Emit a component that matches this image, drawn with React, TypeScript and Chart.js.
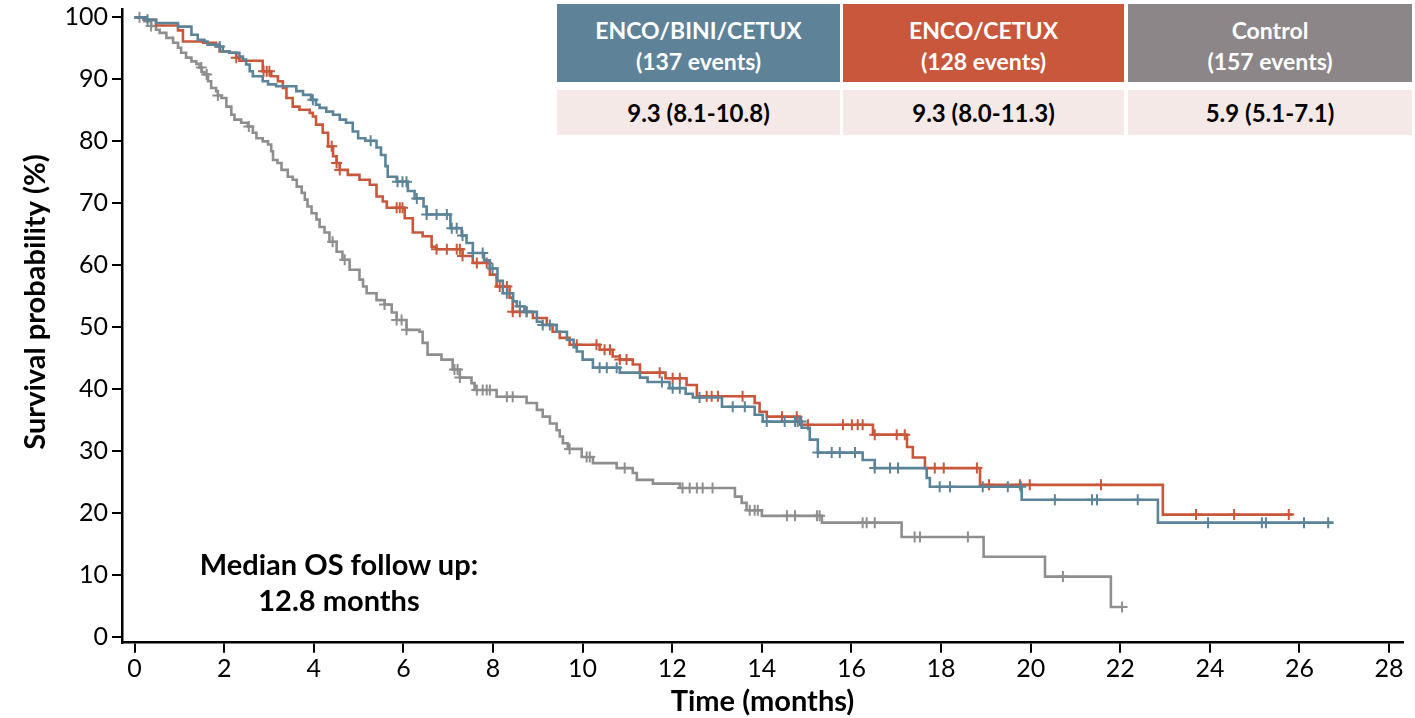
import React, { useEffect, useRef } from "react";
import { Chart, registerables } from "chart.js";

Chart.register(...registerables);

// ---- Axis ticks ----
const xTicks = [0, 2, 4, 6, 8, 10, 12, 14, 16, 18, 20, 22, 24, 26, 28];
const yTicks = [0, 10, 20, 30, 40, 50, 60, 70, 80, 90, 100];

// ---- Groups ----
const groupNames = ["ENCO/BINI/CETUX", "ENCO/CETUX", "Control"];
const groupEvents = ["(137 events)", "(128 events)", "(157 events)"];
const groupMedians = ["9.3 (8.1-10.8)", "9.3 (8.0-11.3)", "5.9 (5.1-7.1)"];
const groupHeaderColors = ["#5e8398", "#c8573b", "#8c8689"];
const groupLineColors = ["#5b8499", "#c8573b", "#8e8e8e"];

// ---- KM event steps: [time (months), survival (%) after event] ----
const blueSteps = [
  [0.27, 99.6], [0.48, 99.1], [0.97, 98.5], [1.27, 97.2], [1.41, 96.4], [1.56, 96.1], [1.63, 95.6],
  [1.9, 95.3], [1.97, 94.5], [2.12, 94.3], [2.34, 93.7], [2.42, 93.2], [2.49, 92.4], [2.57, 91.3],
  [2.64, 90.5], [2.86, 89.7], [2.98, 89.2], [3.16, 88.9], [3.61, 88.1], [3.76, 87.5], [3.94, 86.7],
  [4.05, 85.9], [4.13, 85.4], [4.28, 84.8], [4.43, 84.3], [4.58, 83.5], [4.72, 83.0], [4.87, 81.6],
  [4.99, 80.5], [5.15, 80.1], [5.4, 79.0], [5.5, 77.8], [5.6, 76.0], [5.65, 74.3], [5.85, 73.5],
  [6.1, 72.0], [6.25, 70.8], [6.45, 69.5], [6.52, 68.2], [7.05, 66.0], [7.3, 64.8], [7.41, 63.6],
  [7.55, 62.0], [7.8, 60.8], [7.93, 59.5], [8.1, 57.5], [8.22, 55.5], [8.45, 54.2], [8.53, 53.4],
  [8.7, 52.5], [8.98, 50.9], [9.1, 50.4], [9.42, 49.3], [9.65, 48.0], [9.8, 46.8], [9.87, 46.1],
  [10.0, 44.8], [10.23, 43.5], [10.83, 42.7], [11.28, 41.9], [11.45, 41.2], [11.94, 40.2],
  [12.3, 39.3], [12.46, 38.7], [13.11, 37.2], [13.84, 35.9], [14.02, 34.8], [14.89, 33.8],
  [15.07, 31.9], [15.25, 29.8], [16.25, 28.6], [16.52, 27.3], [17.68, 25.7], [17.75, 24.3],
  [19.8, 22.2], [22.84, 18.5],
];
const blueCensored = [
  0.29, 1.9, 3.98, 5.27, 5.87, 5.98, 6.07, 6.3, 6.52, 6.74, 6.97, 7.08, 7.19, 7.32, 7.55, 7.77,
  7.99, 8.31, 8.6, 8.75, 9.11, 9.27, 10.38, 10.54, 10.76, 11.77, 12.01, 12.17, 12.61, 13.35,
  13.62, 14.11, 14.51, 14.74, 14.8, 14.88, 15.25, 15.56, 15.74, 16.08, 16.52, 16.86, 17.04,
  17.97, 18.2, 18.93, 19.49, 19.78, 20.54, 21.37, 21.48, 22.39, 23.96, 25.16, 25.25, 26.1, 26.64,
];
const blueEnd = 26.75;

const orangeSteps = [
  [0.22, 99.6], [0.48, 98.7], [0.97, 97.9], [1.08, 96.1], [1.53, 95.9], [1.82, 95.3], [1.9, 94.5],
  [2.12, 94.3], [2.27, 93.5], [2.34, 93.0], [2.86, 91.3], [3.05, 90.5], [3.2, 89.7], [3.31, 88.6],
  [3.39, 87.0], [3.53, 85.6], [3.68, 85.1], [3.91, 84.6], [3.98, 84.0], [4.05, 82.7], [4.2, 81.4],
  [4.32, 79.2], [4.43, 77.6], [4.51, 76.5], [4.58, 75.4], [4.76, 74.6], [5.02, 73.8], [5.25, 73.0],
  [5.4, 71.1], [5.54, 70.3], [5.63, 69.3], [6.03, 67.6], [6.21, 65.3], [6.43, 64.7], [6.63, 63.0],
  [6.74, 62.6], [7.32, 61.5], [7.55, 60.4], [7.93, 58.5], [8.08, 56.6], [8.37, 54.8], [8.44, 52.5],
  [8.89, 51.5], [9.2, 50.4], [9.33, 49.3], [9.49, 48.3], [9.71, 47.2], [10.38, 46.4], [10.67, 45.3],
  [10.83, 44.8], [11.12, 44.0], [11.28, 42.7], [11.85, 41.8], [12.32, 40.7], [12.55, 38.9],
  [13.84, 37.8], [13.95, 36.4], [14.11, 35.6], [14.85, 34.3], [16.48, 32.7], [17.24, 30.7],
  [17.37, 29.0], [17.64, 27.3], [18.87, 24.6], [22.95, 19.8],
];
const orangeCensored = [
  2.27, 2.88, 2.95, 3.01, 4.4, 4.51, 4.58, 5.85, 5.92, 5.98, 6.74, 6.97, 7.19, 7.26, 7.32, 7.64,
  7.86, 8.15, 8.31, 8.44, 8.6, 8.75, 9.87, 10.31, 10.49, 10.61, 10.83, 10.98, 11.72, 12.01, 12.17,
  12.77, 12.88, 13.02, 13.57, 14.45, 14.78, 15.03, 15.81, 16.01, 16.14, 16.25, 16.52, 17.01, 17.19,
  17.86, 18.06, 18.8, 19.07, 19.76, 19.98, 21.57, 23.69, 24.54, 25.76,
];
const orangeEnd = 25.85;

const graySteps = [
  [0.22, 99.4], [0.37, 98.6], [0.48, 98.0], [0.56, 97.5], [0.71, 96.7], [0.86, 95.9], [0.97, 95.1],
  [1.04, 94.3], [1.15, 93.5], [1.27, 92.9], [1.38, 92.5], [1.45, 91.9], [1.5, 91.2], [1.56, 90.8],
  [1.64, 89.7], [1.71, 88.6], [1.82, 88.1], [1.86, 87.4], [1.94, 87.0], [2.05, 85.6], [2.16, 84.3],
  [2.23, 83.5], [2.38, 83.0], [2.53, 82.4], [2.64, 81.4], [2.72, 80.5], [2.86, 80.0], [2.98, 79.5],
  [3.05, 78.4], [3.09, 77.0], [3.19, 76.5], [3.28, 75.4], [3.42, 74.3], [3.53, 73.8], [3.62, 72.7],
  [3.73, 71.7], [3.8, 70.6], [3.86, 69.5], [3.95, 68.4], [4.06, 67.4], [4.13, 66.2], [4.24, 65.3],
  [4.35, 63.8], [4.51, 62.2], [4.64, 60.9], [4.8, 59.3], [5.02, 57.7], [5.1, 56.6], [5.18, 55.5],
  [5.4, 54.4], [5.58, 53.7], [5.74, 52.4], [5.85, 51.2], [6.07, 49.6], [6.36, 49.3], [6.43, 47.5],
  [6.54, 45.6], [6.85, 44.8], [7.1, 43.2], [7.26, 41.9], [7.52, 41.0], [7.59, 39.9], [8.08, 38.8],
  [8.75, 37.8], [8.98, 36.7], [9.11, 35.6], [9.27, 34.5], [9.42, 33.4], [9.49, 32.4], [9.56, 31.3],
  [9.67, 30.4], [9.98, 29.1], [10.23, 28.1], [10.76, 27.3], [11.12, 26.5], [11.21, 25.4],
  [11.57, 24.8], [12.17, 24.1], [13.4, 22.7], [13.55, 21.7], [13.66, 20.5], [14.0, 19.6],
  [15.34, 18.5], [17.12, 16.2], [18.95, 13.0], [20.32, 9.8], [21.79, 4.9],
];
const grayCensored = [
  0.11, 0.37, 1.49, 1.61, 1.86, 2.55, 4.42, 4.69, 5.58, 5.85, 5.96, 6.07, 7.14, 7.21, 7.26, 7.64,
  7.77, 7.86, 7.93, 8.31, 8.44, 9.71, 10.09, 10.16, 10.94, 12.23, 12.39, 12.55, 12.68, 12.9, 13.73,
  13.84, 13.91, 14.56, 14.74, 15.23, 15.29, 16.25, 16.34, 16.52, 17.41, 17.53, 18.6, 20.72, 22.04,
];
const grayEnd = 22.04;

// ---- helpers ----
function stepLine(steps: number[][], end: number) {
  const pts = [{ x: 0, y: 100 }];
  steps.forEach(([t, s]) => pts.push({ x: t, y: s }));
  pts.push({ x: end, y: steps[steps.length - 1][1] });
  return pts;
}
function survivalAt(steps: number[][], t: number) {
  let s = 100;
  for (const [tt, ss] of steps) if (tt <= t) s = ss;
  return s;
}
function censorPoints(steps: number[][], times: number[]) {
  return times.map((t) => ({ x: t, y: survivalAt(steps, t) }));
}

const FONT = "Lato, 'Open Sans', sans-serif";

const axisTitlePlugin = {
  id: "axisTitles",
  afterDraw(chart: any) {
    const { ctx, chartArea } = chart;
    ctx.save();
    ctx.fillStyle = "#000";
    ctx.font = `bold 29px ${FONT}`;
    ctx.textAlign = "center";
    ctx.textBaseline = "middle";
    ctx.fillText("Time (months)", (chartArea.left + chartArea.right) / 2, 702);
    ctx.translate(36, 302);
    ctx.rotate(-Math.PI / 2);
    ctx.fillText("Survival probability (%)", 0, 0);
    ctx.restore();
  },
};

function makeLine(data: any[], color: string) {
  return {
    data,
    borderColor: color,
    backgroundColor: color,
    borderWidth: 2.6,
    stepped: true,
    pointRadius: 0,
    pointHoverRadius: 0,
    fill: false,
    tension: 0,
  };
}
function makeCensor(data: any[], color: string) {
  return {
    data,
    showLine: false,
    borderColor: color,
    backgroundColor: color,
    pointStyle: "cross",
    pointRadius: 5.5,
    pointHoverRadius: 5.5,
    pointBorderWidth: 2,
  };
}

export default function App() {
  const canvasRef = useRef<HTMLCanvasElement | null>(null);

  useEffect(() => {
    let chart: Chart | null = null;
    let cancelled = false;
    const build = () => {
      if (cancelled || !canvasRef.current) return;
      const tickFont = { family: FONT, size: 25 };
      chart = new Chart(canvasRef.current, {
        type: "line",
        data: {
          datasets: [
            makeCensor(censorPoints(blueSteps, blueCensored), groupLineColors[0]),
            makeLine(stepLine(blueSteps, blueEnd), groupLineColors[0]),
            makeCensor(censorPoints(orangeSteps, orangeCensored), groupLineColors[1]),
            makeLine(stepLine(orangeSteps, orangeEnd), groupLineColors[1]),
            makeCensor(censorPoints(graySteps, grayCensored), groupLineColors[2]),
            makeLine(stepLine(graySteps, grayEnd), groupLineColors[2]),
          ] as any,
        },
        options: {
          animation: false,
          responsive: false,
          devicePixelRatio: 1,
          events: [],
          layout: { padding: { top: 9, right: 12, left: 0, bottom: 0 } },
          plugins: { legend: { display: false }, tooltip: { enabled: false } },
          scales: {
            x: {
              type: "linear",
              min: -0.28,
              max: 28.31,
              afterBuildTicks: (s: any) => {
                s.ticks = xTicks.map((v) => ({ value: v }));
              },
              afterFit: (s: any) => {
                s.height = 75.3;
                s.paddingLeft = 0;
                s.paddingRight = 0;
                s.paddingTop = 0;
                s.paddingBottom = 0;
              },
              grid: { display: true, drawOnChartArea: false, drawTicks: true, tickLength: 10, color: "#000", lineWidth: 2 },
              border: { display: true, color: "#000", width: 2.5 },
              ticks: { font: tickFont, color: "#000", padding: 1, maxRotation: 0, autoSkip: false },
            },
            y: {
              type: "linear",
              min: -0.86,
              max: 101.35,
              afterBuildTicks: (s: any) => {
                s.ticks = yTicks.map((v) => ({ value: v }));
              },
              afterFit: (s: any) => {
                s.width = 122;
                s.paddingLeft = 0;
                s.paddingRight = 0;
                s.paddingTop = 0;
                s.paddingBottom = 0;
              },
              grid: { display: true, drawOnChartArea: false, drawTicks: true, tickLength: 10, color: "#000", lineWidth: 2 },
              border: { display: true, color: "#000", width: 2.5 },
              ticks: { font: tickFont, color: "#000", padding: 4, autoSkip: false },
            },
          },
        } as any,
        plugins: [axisTitlePlugin],
      });
    };
    const fontsReady = (document as any).fonts
      ? Promise.all([
          (document as any).fonts.load(`25px Lato`),
          (document as any).fonts.load(`bold 29px Lato`),
        ]).catch(() => null)
      : Promise.resolve(null);
    fontsReady.then(build);
    return () => {
      cancelled = true;
      if (chart) chart.destroy();
    };
  }, []);

  const colLefts = [557, 843, 1128];
  const colWidths = [283, 281, 284];

  return (
    <div
      style={{
        position: "fixed",
        left: 0,
        top: 0,
        width: 1415,
        height: 718,
        background: "#fff",
        fontFamily: FONT,
      }}
    >
      <canvas ref={canvasRef} width={1415} height={718} style={{ position: "absolute", left: 0, top: 0, width: 1415, height: 718 }} />
      {groupNames.map((name, i) => (
        <React.Fragment key={name}>
          <div
            style={{
              position: "absolute",
              left: colLefts[i],
              top: 4,
              width: colWidths[i],
              height: 78,
              background: groupHeaderColors[i],
              color: "#fff",
              fontWeight: 700,
              fontSize: 23,
              textAlign: "center",
              display: "flex",
              flexDirection: "column",
              justifyContent: "center",
              lineHeight: "31px",
              paddingTop: 6,
              boxSizing: "border-box",
            }}
          >
            <div>{name}</div>
            <div>{groupEvents[i]}</div>
          </div>
          <div
            style={{
              position: "absolute",
              left: colLefts[i],
              top: 90,
              width: colWidths[i],
              height: 45,
              background: "#f5e9e7",
              color: "#000",
              fontWeight: 700,
              fontSize: 24,
              textAlign: "center",
              lineHeight: "45px",
            }}
          >
            {groupMedians[i]}
          </div>
        </React.Fragment>
      ))}
      <div
        style={{
          position: "absolute",
          left: 169,
          top: 546,
          width: 340,
          textAlign: "center",
          fontWeight: 700,
          fontSize: 29,
          lineHeight: "36px",
          color: "#000",
        }}
      >
        <div>Median OS follow up:</div>
        <div>12.8 months</div>
      </div>
    </div>
  );
}
